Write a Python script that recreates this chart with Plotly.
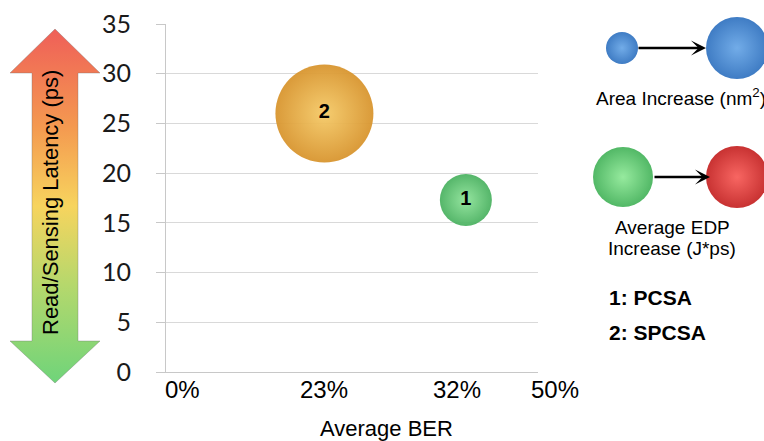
import math
import plotly.graph_objects as go

# ---------------- data ----------------
ber_categories = ["0%", "23%", "32%", "50%"]
design_ids = ["1", "2"]
design_names = ["PCSA", "SPCSA"]
design_ber = ["32%", "23%"]
latency_ps = [17.3, 26.0]
area_rel = [1.0, 3.55]          # relative area (bubble area)
y_tick_values = [0, 5, 10, 15, 20, 25, 30, 35]

# ---------------- layout constants ----------------
W, H = 764, 441
PX0, PX1 = 166, 538      # plot area left/right (px)
PY0, PY1 = 24, 372       # plot area top/bottom (px)
X_RANGE = [-0.12, 2.51]
Y_RANGE = [0, 35]
tick_label_x = [0.0, 1.0, 1.94, 2.63]   # label anchor positions along x axis
BASE_D = 52                               # diameter of unit-area bubble

px_per_x = (PX1 - PX0) / (X_RANGE[1] - X_RANGE[0])


def x_to_px(v):
    return PX0 + (v - X_RANGE[0]) * px_per_x


# marker color = rim colour, gradient colour = centre colour
bubble_style = {
    "1": dict(center="#8FE39A", edge="#4CB262"),
    "2": dict(center="#F5CA68", edge="#D8952F"),
}

SANS = "Liberation Sans, Arial, sans-serif"

fig = go.Figure()

# ---------------- main bubbles ----------------
bx = [ber_categories.index(b) for b in design_ber]
bd = [BASE_D * math.sqrt(a) for a in area_rel]

for i, did in enumerate(design_ids):
    st = bubble_style[did]
    fig.add_trace(go.Scatter(
        x=[bx[i]], y=[latency_ps[i]], mode="markers",
        marker=dict(size=bd[i], sizemode="diameter", color=st["edge"],
                    gradient=dict(type="radial", color=st["center"]),
                    line=dict(width=0), opacity=0.95),
        xaxis="x", yaxis="y", hoverinfo="skip", cliponaxis=False))

fig.add_trace(go.Scatter(
    x=bx, y=latency_ps, mode="text", text=design_ids,
    textfont=dict(family=SANS, size=20, color="black", weight="bold"),
    textposition="middle center", xaxis="x", yaxis="y", hoverinfo="skip",
    cliponaxis=False))

# ---------------- overlay (pixel) decorations ----------------
# gradient double arrow on the left
arrow_x = [55, 10, 32, 32, 10, 55, 100, 78, 78, 100, 55]
arrow_y = [29, 73, 73, 341, 341, 383, 341, 341, 73, 73, 29]
fig.add_trace(go.Scatter(
    x=arrow_x, y=arrow_y, mode="lines", fill="toself",
    fillgradient=dict(type="vertical",
                      colorscale=[[0, "#6FD47A"], [0.28, "#B6D86C"],
                                  [0.5, "#F7D45E"], [0.72, "#F49A50"],
                                  [1, "#EF5F58"]]),
    line=dict(color="rgba(110,110,110,0.35)", width=1),
    xaxis="x2", yaxis="y2", hoverinfo="skip"))

# legend spheres: (cx, cy, diameter, centre colour, rim colour)
legend_spheres = [
    (622, 48, 32, "#72ACE8", "#3F7CC4"),
    (737, 48, 62, "#72ACE8", "#3F7CC4"),
    (623, 177, 60, "#96EA9E", "#52B866"),
    (737, 177, 62, "#F86662", "#C83232"),
]
for cx, cy, d, c0, c1 in legend_spheres:
    fig.add_trace(go.Scatter(
        x=[cx], y=[cy], mode="markers",
        marker=dict(size=d, color=c1, gradient=dict(type="radial", color=c0),
                    line=dict(width=0)),
        xaxis="x2", yaxis="y2", hoverinfo="skip"))

annotations = []
# legend arrows
for x0, x1, y in [(637, 706, 48), (653, 710, 177)]:
    annotations.append(dict(
        x=x1, y=y, ax=x0, ay=y, xref="x2", yref="y2", axref="x2", ayref="y2",
        showarrow=True, arrowhead=3, arrowsize=1, arrowwidth=2.5,
        arrowcolor="black", standoff=0, text=""))

# x tick labels (placed through the x-axis scale)
for lab, xp in zip(ber_categories, tick_label_x):
    annotations.append(dict(
        x=x_to_px(xp), y=389, xref="x2", yref="y2", text=lab, showarrow=False,
        xanchor="center", yanchor="middle",
        font=dict(family=SANS, size=24, color="black")))

# axis titles
annotations.append(dict(x=386, y=428, xref="x2", yref="y2", text="Average BER",
                        showarrow=False, xanchor="center", yanchor="middle",
                        font=dict(family=SANS, size=22, color="black")))
annotations.append(dict(x=50, y=203, xref="x2", yref="y2",
                        text="Read/Sensing Latency (ps)", textangle=-90,
                        showarrow=False, xanchor="center", yanchor="middle",
                        font=dict(family=SANS, size=22, color="black")))

# legend texts
annotations.append(dict(x=594, y=97, xref="x2", yref="y2",
                        text="Area Increase (nm<sup>2</sup>)", showarrow=False,
                        xanchor="left", yanchor="middle",
                        font=dict(family=SANS, size=19, color="black")))
annotations.append(dict(x=672, y=227, xref="x2", yref="y2", text="Average EDP",
                        showarrow=False, xanchor="center", yanchor="middle",
                        font=dict(family=SANS, size=19, color="black")))
annotations.append(dict(x=672, y=248, xref="x2", yref="y2", text="Increase (J*ps)",
                        showarrow=False, xanchor="center", yanchor="middle",
                        font=dict(family=SANS, size=19, color="black")))
for k, (did, name) in enumerate(zip(design_ids, design_names)):
    annotations.append(dict(x=607, y=297 + 35 * k, xref="x2", yref="y2",
                            text=f"<b>{did}: {name}</b>", showarrow=False,
                            xanchor="left", yanchor="middle",
                            font=dict(family=SANS, size=21, color="black")))

fig.update_layout(
    width=W, height=H, margin=dict(l=0, r=0, t=0, b=0, autoexpand=False),
    paper_bgcolor="white", plot_bgcolor="rgba(0,0,0,0)", showlegend=False,
    xaxis=dict(domain=[PX0 / W, PX1 / W], range=X_RANGE, showgrid=False,
               zeroline=False, showline=True, linecolor="#c8c8c8", linewidth=1,
               showticklabels=False, ticks="", anchor="y", fixedrange=True,
               automargin=False),
    yaxis=dict(domain=[1 - PY1 / H, 1 - PY0 / H], range=Y_RANGE,
               tickvals=y_tick_values, showgrid=True, gridcolor="#d9d9d9",
               gridwidth=1, zeroline=False, showline=True, linecolor="#c8c8c8",
               linewidth=1, ticks="outside", ticklen=9, tickcolor="#c8c8c8",
               ticklabelstandoff=20,
               tickfont=dict(family="Lato, sans-serif", size=25, color="#1a1a1a"),
               anchor="x", fixedrange=True, automargin=False),
    xaxis2=dict(domain=[0, 1], range=[0, W], visible=False, anchor="y2",
                fixedrange=True, automargin=False),
    yaxis2=dict(domain=[0, 1], range=[H, 0], visible=False, anchor="x2",
                fixedrange=True, automargin=False),
    annotations=annotations,
)

fig.write_html("out.html")
